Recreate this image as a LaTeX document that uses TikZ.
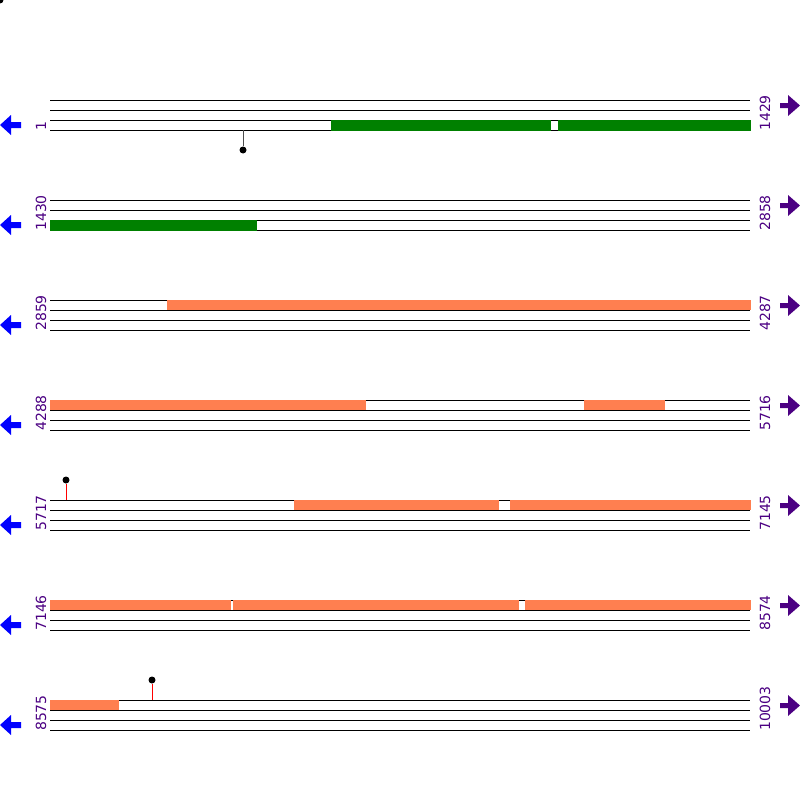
\documentclass[tikz,border=0pt]{standalone}
\usepackage{fontspec}
\setmainfont{DejaVu Sans}
\definecolor{gbar}{HTML}{008000}
\definecolor{obar}{HTML}{FF7F50}
\definecolor{lab}{HTML}{4B0082}
\definecolor{larr}{HTML}{0000FF}
\tikzset{
  track/.style={draw=black,line width=1pt},
  greenbar/.style={fill=gbar,draw=none},
  orangebar/.style={fill=obar,draw=none},
  poslabel/.style={rotate=90,anchor=west,inner sep=0pt,text=lab,font=\fontsize{14}{14}\selectfont},
  leftarrow/.style={fill=larr,draw=none},
  rightarrow/.style={fill=lab,draw=none},
  pin/.style={line width=1pt},
  pinhead/.style={circle,fill=black,inner sep=0pt,minimum size=7pt}
}
\begin{document}
\begin{tikzpicture}[x=1pt,y=-1pt]
\useasboundingbox (0,0) rectangle (800,800);
\fill[black] (0,0) circle (3.5);
% tracks, arrows and labels
\foreach \r/\a/\b in {0/1/1429,1/1430/2858,2/2859/4287,3/4288/5716,4/5717/7145,5/7146/8574,6/8575/10003}{
  \pgfmathsetmacro{\yy}{100+100*\r}
  \foreach \k in {0,10,20,30}{
    \draw[track] (50,\yy+\k) -- (750,\yy+\k);
  }
  \fill[leftarrow] (0,\yy+25) -- (11,\yy+15) -- (11,\yy+22) -- (21,\yy+22) -- (21,\yy+28) -- (11,\yy+28) -- (11,\yy+35) -- cycle;
  \fill[rightarrow] (800,\yy+5.5) -- (788,\yy-5) -- (788,\yy+3) -- (780,\yy+3) -- (780,\yy+8) -- (788,\yy+8) -- (788,\yy+16) -- cycle;
  \node[poslabel] (l\r) at (41,\yy+31) {\a};
  \node[poslabel] (r\r) at (765,\yy+31) {\b};
}
% row 1
\fill[greenbar] (331,120) rectangle (551,130.5);
\fill[greenbar] (557.5,120) rectangle (751,130.5);
\node[pinhead] (p1) at (243,150) {};
\coordinate (p1b) at (243,130);
\draw[pin,black!70] (p1b) -- (p1);
% row 2
\fill[greenbar] (50,220) rectangle (257,230.5);
% row 3
\fill[orangebar] (167,299.5) rectangle (751,310);
% row 4
\fill[orangebar] (50,399.5) rectangle (366,410);
\fill[orangebar] (584,399.5) rectangle (665,410);
% row 5
\fill[orangebar] (294,499.5) rectangle (498.5,510);
\fill[orangebar] (510,499.5) rectangle (751,510);
\node[pinhead] (p5) at (66,480) {};
\coordinate (p5b) at (66,500);
\draw[pin,red] (p5b) -- (p5);
% row 6
\fill[orangebar] (50,599.5) rectangle (231,610);
\fill[orangebar] (233.3,599.5) rectangle (518.5,610);
\fill[orangebar] (524.5,599.5) rectangle (751,610);
% row 7
\fill[orangebar] (50,699.5) rectangle (119,710);
\node[pinhead] (p7) at (152,680) {};
\coordinate (p7b) at (152,700);
\draw[pin,red] (p7b) -- (p7);
\end{tikzpicture}
\end{document}
